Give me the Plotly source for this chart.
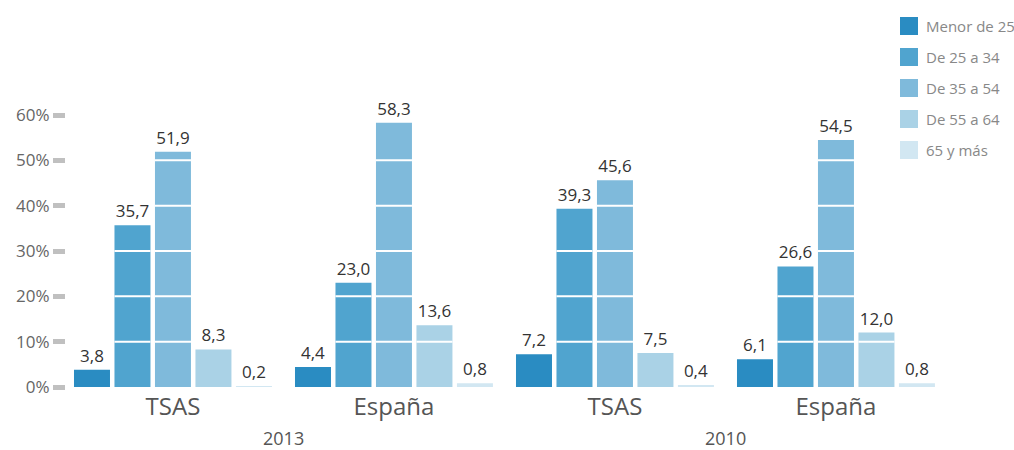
import plotly.graph_objects as go

groups = ["TSAS", "España", "TSAS", "España"]
years = ["2013", "2010"]
series_names = ["Menor de 25", "De 25 a 34", "De 35 a 54", "De 55 a 64", "65 y más"]
menor_25 = [3.8, 4.4, 7.2, 6.1]
de_25_34 = [35.7, 23.0, 39.3, 26.6]
de_35_54 = [51.9, 58.3, 45.6, 54.5]
de_55_64 = [8.3, 13.6, 7.5, 12.0]
mas_65 = [0.2, 0.8, 0.4, 0.8]
y_ticks = [0, 10, 20, 30, 40, 50, 60]
y_tick_labels = ["0%", "10%", "20%", "30%", "40%", "50%", "60%"]

series = [menor_25, de_25_34, de_35_54, de_55_64, mas_65]
colors = ["#2a8cc2", "#50a4cf", "#7fbadb", "#aad2e6", "#d2e7f2"]

x_pos = list(range(len(groups)))
bargap = 0.084
bargroupgap = 0.111

fig = go.Figure()
for name, vals, col in zip(series_names, series, colors):
    fig.add_trace(go.Bar(
        x=x_pos, y=vals, name=name, marker=dict(color=col, line=dict(width=0)),
        text=[f"{v:.1f}".replace(".", ",") for v in vals],
        textposition="outside", cliponaxis=False,
        textfont=dict(family="Open Sans", size=17, color="#333333"),
        showlegend=False, hoverinfo="skip",
    ))

# white separator lines inside bars at each 10% step
n = len(series)
group_w = 1 - bargap
slot = group_w / n
bar_w = slot * (1 - bargroupgap)
shapes = []
for i, vals in enumerate(series):
    off = -group_w / 2 + slot * (i + 0.5)
    for g, v in zip(x_pos, vals):
        for t in y_ticks[1:]:
            if t < v:
                shapes.append(dict(type="line", xref="x", yref="y",
                                   x0=g + off - bar_w / 2, x1=g + off + bar_w / 2,
                                   y0=t, y1=t, line=dict(color="white", width=2), layer="above"))

# separator mark between years
shapes.append(dict(type="rect", xref="x", yref="y", xsizemode="pixel", ysizemode="pixel",
                   xanchor=1.5, yanchor=0, x0=-3.5, x1=3.5, y0=-2, y1=-13,
                   fillcolor="#c0c0c0", line=dict(width=0)))

# manual legend
annotations = []
for k, (name, col) in enumerate(zip(series_names, colors)):
    cy = 26 + 31 * k
    shapes.append(dict(type="rect", xref="paper", yref="paper", xsizemode="pixel", ysizemode="pixel",
                       xanchor=(900 - 66) / 880, yanchor=1 + (100 - cy) / 287,
                       x0=0, x1=18, y0=-9, y1=9, fillcolor=col, line=dict(width=0)))
    annotations.append(dict(text=name, xref="paper", yref="paper",
                            x=(924 - 66) / 880, y=1 + (100 - cy) / 287,
                            xanchor="left", yanchor="middle", showarrow=False,
                            font=dict(family="Open Sans", size=15, color="#888888")))

for j, yr in enumerate(years):
    annotations.append(dict(text=yr, xref="x", yref="y", x=2 * j + 0.5, y=0,
                            yanchor="middle", yshift=-51, showarrow=False,
                            font=dict(family="Open Sans", size=18, color="#555555")))

fig.update_layout(
    width=1014, height=450,
    margin=dict(l=66, r=68, t=100, b=63),
    paper_bgcolor="white", plot_bgcolor="white",
    barmode="group", bargap=bargap, bargroupgap=bargroupgap,
    shapes=shapes, annotations=annotations, hovermode=False,
    xaxis=dict(range=[-0.484, -0.484 + 880 / 221], tickvals=x_pos, ticktext=groups,
               showgrid=False, zeroline=False, showline=False, ticks="",
               ticklabelstandoff=3, fixedrange=True,
               tickfont=dict(family="Open Sans", size=24, color="#555555")),
    yaxis=dict(range=[0, 287 / 4.533], tickvals=y_ticks, ticktext=y_tick_labels,
               showgrid=False, zeroline=False, showline=False, fixedrange=True,
               ticks="outside", ticklen=12, tickwidth=5, tickcolor="#c0c0c0",
               tickfont=dict(family="Open Sans", size=17, color="#666666")),
)

fig.write_html("out.html", config={"displayModeBar": False},
               post_script="document.body.style.margin='0';")
